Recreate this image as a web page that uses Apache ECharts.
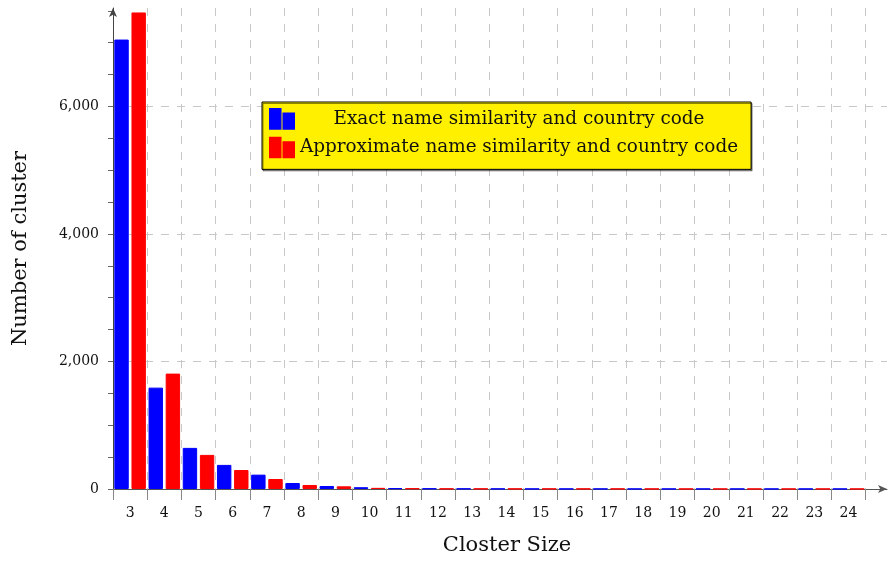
<!DOCTYPE html>
<html>
<head>
<meta charset="utf-8">
<script src="https://cdn.jsdelivr.net/npm/echarts@6/dist/echarts.min.js"></script>
<style>
html,body{margin:0;padding:0;background:#fff;}
#chart{width:893px;height:562px;}
</style>
</head>
<body>
<div id="chart"></div>
<script>
// ---- data ----
var sizes = ['3','4','5','6','7','8','9','10','11','12','13','14','15','16','17','18','19','20','21','22','23','24'];
var exactValues = [7050,1590,645,378,225,94,47,28,12,8,6,4,3,3,3,2,2,2,2,2,2,2];
var approxValues = [7475,1810,535,298,157,63,42,18,10,6,5,4,4,4,4,3,2,2,2,2,2,2];
var seriesNames = ['Exact name similarity and country code','Approximate name similarity and country code'];
var yTicks = [0, 2000, 4000, 6000];
var yTickMarks = [0,500,1000,1500,2000,2500,3000,3500,4000,4500,5000,5500,6000,6500,7000,7500];

var FONT = 'DejaVu Serif';
var YMAX = 7545;
var chart = echarts.init(document.getElementById('chart'), null, {renderer:'canvas'});
var dashed = {color:'#c8c8c8', width:1, type:[8,8]};
var iconPath = 'path://M0,0H10.7V20H0Z M13.7,4.7H24.4V20H13.7Z';

chart.setOption({
  animation:false,
  backgroundColor:'#ffffff',
  grid:[
    {left:113, right:6, top:8, bottom:73},
    {left:113, width:752.6, top:8, bottom:73}
  ],
  legend:{
    orient:'vertical', left:262, top:102,
    data:[{name:seriesNames[0], icon:iconPath},{name:seriesNames[1], icon:iconPath}],
    itemWidth:24, itemHeight:20, itemGap:7, itemTextGap:5,
    padding:[6,13,11,7],
    backgroundColor:'#fff000', borderColor:'#000', borderWidth:1,
    shadowColor:'rgba(0,0,0,0.45)', shadowOffsetX:1, shadowOffsetY:1.5, shadowBlur:0,
    formatter:function(n){return '{c|'+n+'}';},
    textStyle:{fontFamily:FONT, fontSize:18.4, color:'#111',
      rich:{c:{width:440, align:'center', fontFamily:FONT, fontSize:18.4, color:'#111'}}}
  },
  xAxis:[
    {gridIndex:0, type:'value', min:0, max:1,
      axisLine:{show:true, symbol:['none','arrow'], symbolSize:[6,9], lineStyle:{color:'#555', width:1}},
      axisTick:{show:false}, axisLabel:{show:false}, splitLine:{show:false},
      name:'Closter Size', nameLocation:'middle', nameGap:46,
      nameTextStyle:{fontFamily:FONT, fontSize:21, color:'#111', padding:[0,0,0,14]}
    },
    {gridIndex:1, type:'category', data:sizes, boundaryGap:true,
      axisLine:{show:false},
      axisTick:{show:true, length:11, lineStyle:{color:'#888', width:1}},
      axisLabel:{interval:0, margin:17, fontFamily:FONT, fontSize:14, color:'#111'},
      splitLine:{show:true, interval:0, lineStyle:dashed}
    }
  ],
  yAxis:[
    {gridIndex:0, type:'value', position:'left', min:0, max:YMAX, interval:2000,
      axisLine:{show:true, symbol:['none','arrow'], symbolSize:[6,9], lineStyle:{color:'#444', width:1}},
      axisTick:{show:false},
      axisLabel:{margin:14, showMaxLabel:false, fontFamily:FONT, fontSize:14, color:'#111',
        formatter:function(v){ return yTicks.indexOf(v)>=0 ? v.toLocaleString('en-US') : ''; }},
      splitLine:{show:true, showMinLine:false, showMaxLine:false, lineStyle:dashed},
      name:'Number of cluster', nameLocation:'middle', nameGap:82,
      nameTextStyle:{fontFamily:FONT, fontSize:21, color:'#111'}
    },
    {gridIndex:0, type:'value', position:'left', offset:0, min:0, max:YMAX, interval:500,
      axisLine:{show:false},
      axisTick:{show:true, length:5, customValues:yTickMarks, lineStyle:{color:'#666'}},
      axisLabel:{show:false}, splitLine:{show:false}
    },
    {gridIndex:1, type:'value', min:0, max:YMAX, show:false}
  ],
  series:[
    {name:seriesNames[0], type:'bar', xAxisIndex:1, yAxisIndex:2, data:exactValues,
      barWidth:14.4, barGap:'19%',
      itemStyle:{color:'#0000ff', borderColor:'#0000ff', borderWidth:1}},
    {name:seriesNames[1], type:'bar', xAxisIndex:1, yAxisIndex:2, data:approxValues,
      barWidth:14.4, barGap:'19%',
      itemStyle:{color:'#ff0000', borderColor:'#ff0000', borderWidth:1}}
  ]
});
</script>
</body>
</html>
